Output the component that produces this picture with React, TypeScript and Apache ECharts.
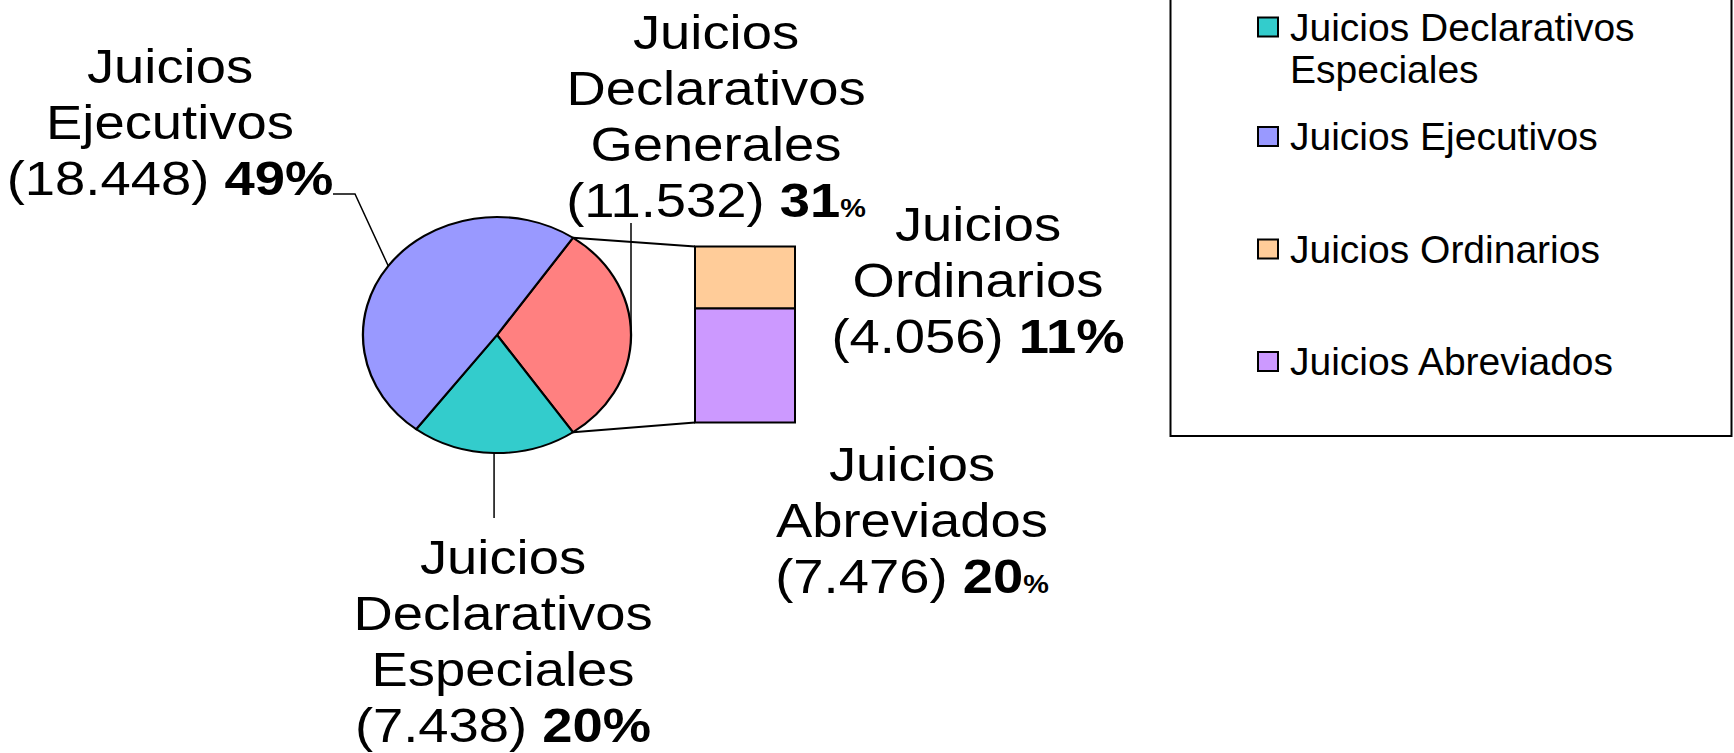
import React, { useEffect, useRef } from 'react';
import * as echarts from 'echarts';

// ---------------- data ----------------
const PIE_NAMES = ['Juicios Declarativos Generales', 'Juicios Declarativos Especiales', 'Juicios Ejecutivos'];
const PIE_VALUES = [11532, 7438, 18448];
const BAR_CATEGORY = ['Juicios Declarativos Generales'];
const BAR_NAMES = ['Juicios Ordinarios', 'Juicios Abreviados'];
const BAR_VALUES = [4056, 7476];
const LEGEND_NAMES = ['Juicios Declarativos Especiales', 'Juicios Ejecutivos', 'Juicios Ordinarios', 'Juicios Abreviados'];

// ---------------- styles / layout ----------------
const COLORS: Record<string, string> = {
  'Juicios Declarativos Generales': '#FF8080',
  'Juicios Declarativos Especiales': '#33CCCC',
  'Juicios Ejecutivos': '#9999FF',
  'Juicios Ordinarios': '#FFCC99',
  'Juicios Abreviados': '#CC99FF',
};
const SMALL_PCT: Record<string, boolean> = {
  'Juicios Declarativos Generales': true,
  'Juicios Abreviados': true,
};
const FONT = "'Liberation Sans', Arial, Helvetica, sans-serif";
const PIE = { cx: 497, cy: 335, rx: 134, ry: 118 };
const TEXT_SCALE_X = 1.11;
const LABEL_POS: Record<string, number[]> = {
  'Juicios Ejecutivos': [170, 122],
  'Juicios Declarativos Generales': [716, 116],
  'Juicios Declarativos Especiales': [503, 641],
  'Juicios Ordinarios': [978, 280],
  'Juicios Abreviados': [912, 520],
};
const LEADERS: Record<string, any> = {
  'Juicios Ejecutivos': { points: [[333, 194], [355, 194]] },
  'Juicios Declarativos Generales': { verticalFrom: 223 },
  'Juicios Declarativos Especiales': { verticalFrom: 518 },
};

const TOTAL = PIE_VALUES.reduce((a, b) => a + b, 0);
const BAR_TOTAL = BAR_VALUES.reduce((a, b) => a + b, 0);

const RICH = {
  n: { fontFamily: FONT, fontSize: 49, lineHeight: 56, fill: '#000' },
  b: { fontFamily: FONT, fontSize: 49, fontWeight: 'bold', lineHeight: 56, fill: '#000' },
  p: { fontFamily: FONT, fontSize: 26, fontWeight: 'bold', fill: '#000', padding: [16, 0, 0, 0] },
};

const fmtNum = (v: number) => String(v).replace(/\B(?=(\d{3})+(?!\d))/g, '.');

function labelText(name: string, value: number) {
  const lines = name.split(' ').map((w) => `{n|${w}}`);
  const pct = Math.round((value / TOTAL) * 100);
  const last = SMALL_PCT[name]
    ? `{n|(${fmtNum(value)}) }{b|${pct}}{p|%}`
    : `{n|(${fmtNum(value)}) }{b|${pct}%}`;
  return [...lines, last].join('\n');
}

function labelEl(name: string, value: number) {
  const pos = LABEL_POS[name];
  return {
    type: 'text',
    x: pos[0],
    y: pos[1],
    scaleX: TEXT_SCALE_X,
    style: {
      text: labelText(name, value),
      rich: RICH,
      align: 'center',
      verticalAlign: 'middle',
      fontFamily: FONT,
      fontSize: 49,
      lineHeight: 56,
      fill: '#000',
    },
  };
}

function sliceRange(i: number) {
  const start0 = (-Math.PI * PIE_VALUES[0]) / TOTAL;
  let acc = 0;
  for (let j = 0; j < i; j++) acc += PIE_VALUES[j];
  const a0 = start0 + (2 * Math.PI * acc) / TOTAL;
  return [a0, a0 + (2 * Math.PI * PIE_VALUES[i]) / TOTAL];
}

function ellipsePoint(a: number) {
  return [PIE.cx + PIE.rx * Math.cos(a), PIE.cy + PIE.ry * Math.sin(a)];
}

function barRange(i: number) {
  let above = 0;
  for (let j = 0; j < i; j++) above += BAR_VALUES[j];
  const top = BAR_TOTAL - above;
  return [top - BAR_VALUES[i], top];
}

export default function App() {
  const ref = useRef<HTMLDivElement>(null);

  useEffect(() => {
    if (!ref.current) return;
    const chart = echarts.init(ref.current, undefined, { renderer: 'svg' });

    const pieSeries = PIE_NAMES.map((name, i) => ({
      type: 'custom',
      name,
      coordinateSystem: 'none',
      silent: true,
      itemStyle: { color: COLORS[name] },
      data: [PIE_VALUES[i]],
      renderItem: (params: any, api: any) => {
        const value = api.value(0) as number;
        const [a0, a1] = sliceRange(i);
        const mid = (a0 + a1) / 2;
        const edge = ellipsePoint(mid);
        const children: any[] = [
          {
            type: 'sector',
            x: PIE.cx,
            y: PIE.cy,
            scaleX: PIE.rx / PIE.ry,
            shape: { cx: 0, cy: 0, r: PIE.ry, r0: 0, startAngle: a0, endAngle: a1, clockwise: true },
            style: { fill: api.visual('color'), stroke: '#000', lineWidth: 2, strokeNoScale: true },
          },
        ];
        const ld = LEADERS[name];
        if (ld) {
          const pts = ld.points ? [...ld.points, edge] : [[edge[0], ld.verticalFrom], edge];
          children.push({
            type: 'polyline',
            shape: { points: pts },
            style: { stroke: '#000', lineWidth: 1.5, fill: 'none' },
          });
        }
        children.push(labelEl(name, value));
        return { type: 'group', children };
      },
    }));

    const barSeries = BAR_NAMES.map((name, i) => {
      const [lo, hi] = barRange(i);
      return {
        type: 'custom',
        name,
        coordinateSystem: 'cartesian2d',
        silent: true,
        itemStyle: { color: COLORS[name] },
        encode: { x: 0, y: [1, 2] },
        data: [[0, lo, hi]],
        renderItem: (params: any, api: any) => {
          const cat = api.value(0);
          const vLo = api.value(1) as number;
          const vHi = api.value(2) as number;
          const pLo = api.coord([cat, vLo]);
          const pHi = api.coord([cat, vHi]);
          const w = api.size([1, 0])[0];
          const x = pLo[0] - w / 2;
          const children: any[] = [
            {
              type: 'rect',
              shape: { x, y: pHi[1], width: w, height: pLo[1] - pHi[1] },
              style: { fill: api.visual('color'), stroke: '#000', lineWidth: 2 },
            },
          ];
          const [g0, g1] = sliceRange(0);
          if (vHi === BAR_TOTAL) {
            const p = ellipsePoint(g0);
            children.push({
              type: 'line',
              shape: { x1: p[0], y1: p[1], x2: x, y2: pHi[1] },
              style: { stroke: '#000', lineWidth: 2 },
            });
          }
          if (vLo === 0) {
            const p = ellipsePoint(g1);
            children.push({
              type: 'line',
              shape: { x1: p[0], y1: p[1], x2: x, y2: pLo[1] },
              style: { stroke: '#000', lineWidth: 2 },
            });
          }
          children.push(labelEl(name, vHi - vLo));
          return { type: 'group', children };
        },
      };
    });

    // icon centres (px from top): ~25, 136.5, 249, 361.5
    const legendTops = [null, 115.5, 228, 340.5];
    const legends = LEGEND_NAMES.map((name, i) => {
      const base: any = {
        data: [name],
        orient: 'vertical',
        left: 1257,
        padding: 0,
        icon: 'rect',
        itemWidth: 20,
        itemHeight: 19,
        selectedMode: false,
        itemStyle: { borderColor: '#000', borderWidth: 2 },
        textStyle: {
          fontFamily: FONT,
          fontSize: 39,
          color: '#000',
          lineHeight: 42,
          padding: [0, 0, 0, 7],
        },
      };
      if (i === 0) {
        // three-line block (blank first line) so the icon sits on the first text line
        base.bottom = 663;
        base.formatter = (n: string) => ' \n' + n.replace('Declarativos ', 'Declarativos\n');
      } else {
        base.top = legendTops[i];
      }
      return base;
    });

    chart.setOption({
      animation: false,
      backgroundColor: '#ffffff',
      grid: { left: 695, top: 246.5, width: 100, height: 176, show: false },
      xAxis: { type: 'category', data: BAR_CATEGORY, show: false },
      yAxis: { type: 'value', min: 0, max: BAR_TOTAL, show: false },
      legend: legends,
      graphic: [
        {
          type: 'rect',
          shape: { x: 1170.5, y: -10, width: 561, height: 446 },
          style: { fill: 'none', stroke: '#000', lineWidth: 2 },
          silent: true,
        },
      ],
      series: [...pieSeries, ...barSeries],
    });

    return () => chart.dispose();
  }, []);

  return (
    <div
      ref={ref}
      style={{ position: 'fixed', left: 0, top: 0, width: 1734, height: 753, background: '#fff' }}
    />
  );
}
